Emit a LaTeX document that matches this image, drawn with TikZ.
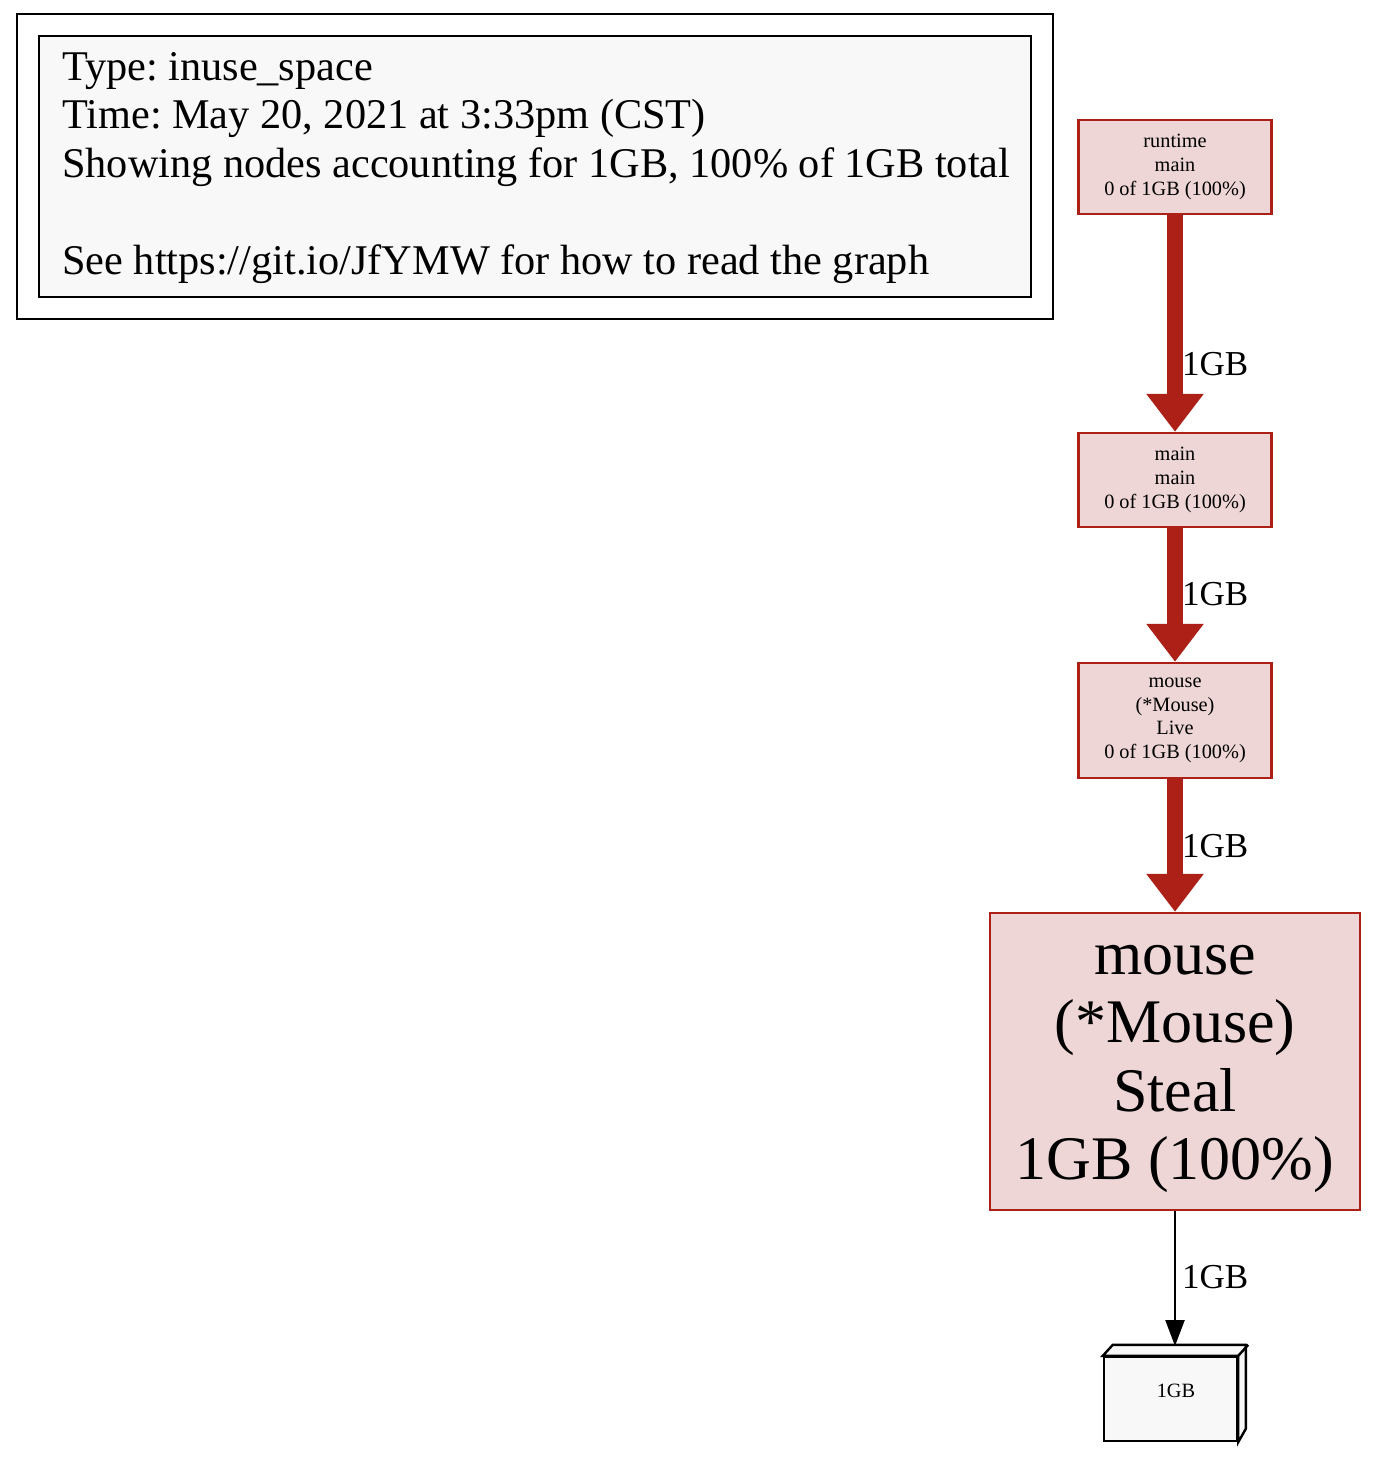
\documentclass[tikz,border=0pt]{standalone}
\usepackage{fontspec}
\setmainfont{Liberation Serif}
\usetikzlibrary{arrows.meta}
\definecolor{pred}{RGB}{172,32,24}
\definecolor{pfill}{RGB}{237,214,213}
\definecolor{lgrey}{RGB}{248,248,248}
\tikzset{
  fnode/.style={draw=pred, fill=pfill, line width=2.4pt, inner sep=0pt, align=center,
    font=\fontsize{20.3}{23.7}\selectfont},
  hdr/.style={anchor=base west, inner sep=0pt, font=\fontsize{42.3}{48}\selectfont},
  elabel/.style={anchor=base west, inner sep=0pt, font=\fontsize{35}{40}\selectfont},
  hotedge/.style={draw=pred, line width=16pt, -{Triangle[length=38pt,width=55pt]}},
  coldedge/.style={draw=black, line width=2.4pt, -{Triangle[length=26pt,width=19pt]}}
}
\begin{document}
\frenchspacing
\begin{tikzpicture}[x=1pt,y=-1pt]
\useasboundingbox (0,0) rectangle (1386,1460);
% legend
\node[draw=black, line width=2.4pt, minimum width=1036pt, minimum height=305pt, inner sep=0pt] (outer) at (535,166.5) {};
\node[draw=black, fill=lgrey, line width=2.4pt, minimum width=992pt, minimum height=261pt, inner sep=0pt] (inner) at (535,166.5) {};
\node[hdr] (h1) at (62,80) {Type: inuse\_space};
\node[hdr] (h2) at (62,128.5) {Time: May 20, 2021 at 3:33pm (CST)};
\node[hdr] (h3) at (62,177) {Showing nodes accounting for 1GB, 100\% of 1GB total};
\node[hdr] (h4) at (62,274) {See https://git.io/JfYMW for how to read the graph};
% nodes
\node[fnode, minimum width=193pt, minimum height=94pt] (rt) at (1175,167) {runtime\\main\\0 of 1GB (100\%)};
\node[fnode, minimum width=193pt, minimum height=94pt] (mm) at (1175,480) {main\\main\\0 of 1GB (100\%)};
\node[fnode, minimum width=193pt, minimum height=115pt] (ml) at (1175,720.5) {mouse\\(*Mouse)\\Live\\0 of 1GB (100\%)};
\node[fnode, minimum width=370pt, minimum height=297pt] (ms) at (1175,1061.5) {};
\node[align=center, inner sep=0pt, font=\fontsize{62}{68.5}\selectfont] (mstext) at (1175,1069) {mouse\\(*Mouse)\\Steal\\1GB (100\%)};
% 3D box leaf
\node[draw=black, fill=lgrey, line width=2.4pt, minimum width=133pt, minimum height=84pt, inner sep=0pt] (leaf) at (1170.5,1399) {};
\draw[black, fill=lgrey, line width=2.4pt, line join=miter]
  (leaf.north west) -- ++(10,-11) -- ++(133,0) -- ++(0,84) -- (leaf.south east) -- (leaf.north east) -- cycle;
\draw[black, line width=2.4pt] (leaf.north east) -- ++(10,-11);
\node[inner sep=0pt, font=\fontsize{20.3}{23.7}\selectfont] (leaftext) at (1176,1391) {1GB};
\coordinate (leaftop) at (1175,1346);
% edges
\draw[hotedge] (rt.south) -- (mm.north);
\draw[hotedge] (mm.south) -- (ml.north);
\draw[hotedge] (ml.south) -- (ms.north);
\draw[coldedge] (ms.south) -- (leaftop);
% edge labels
\node[elabel] (l1) at (1182,375) {1GB};
\node[elabel] (l2) at (1182,605) {1GB};
\node[elabel] (l3) at (1182,857) {1GB};
\node[elabel] (l4) at (1182,1288) {1GB};
\end{tikzpicture}
\end{document}
